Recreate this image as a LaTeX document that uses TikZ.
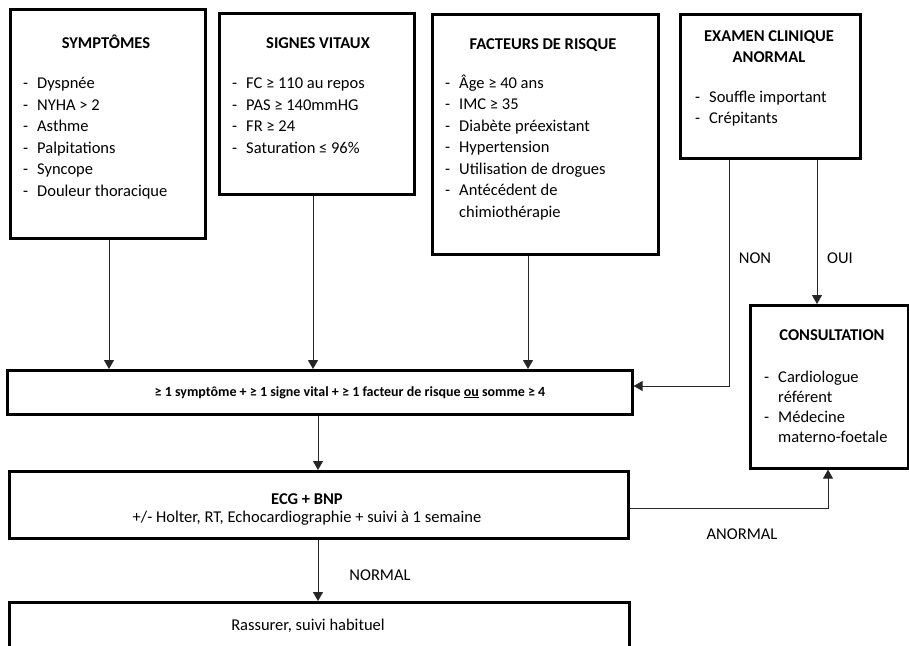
\documentclass[tikz,border=0pt]{standalone}
\usepackage{fontspec}
\setmainfont{Carlito}
\usetikzlibrary{arrows.meta}
\newcommand\li[4]{\node[txt,anchor=base west] (#1) at (#2,#3) {\makebox[14pt][l]{-}#4};}
\newcommand\lc[4]{\node[txt,anchor=base west] (#1) at (#2,#3) {\makebox[14pt][l]{}#4};}
\begin{document}
\begin{tikzpicture}[x=1pt,y=-1pt,
  box/.style={draw=black, line width=2.6pt, inner sep=0pt, anchor=north west, fill=white},
  conn/.style={draw=black!85, line width=0.9pt, -{Triangle[width=10pt,length=9pt]}},
  txt/.style={inner sep=0pt, text=black, font=\fontsize{16.5}{20}\selectfont},
  ttl/.style={txt, font=\bfseries\fontsize{16.5}{20}\selectfont},
  lbl/.style={txt, anchor=center},
]
\useasboundingbox (0,0) rectangle (909,645);
\clip (0,0) rectangle (909,645);

% boxes
\node[box, minimum width=195pt, minimum height=229pt] (sym) at (9,8) {};
\node[box, minimum width=195pt, minimum height=181pt] (sv) at (218,12) {};
\node[box, minimum width=226pt, minimum height=240pt] (fac) at (431,13) {};
\node[box, minimum width=180pt, minimum height=144pt] (exa) at (679,13) {};
\node[box, minimum width=625pt, minimum height=44pt] (main) at (6,369) {};
\node[box, minimum width=158pt, minimum height=163pt] (cons) at (749,304) {};
\node[box, minimum width=619pt, minimum height=67pt] (ecg) at (8,470) {};
\node[box, minimum width=620pt, minimum height=80pt] (ras) at (8,601) {};

% SYMPTOMES
\node[ttl, anchor=base] (symt) at (106,48) {SYMPTÔMES};
\li{s1}{23}{88.5}{Dyspnée}
\li{s2}{23}{110}{NYHA > 2}
\li{s3}{23}{131.5}{Asthme}
\li{s4}{23}{153}{Palpitations}
\li{s5}{23}{174.5}{Syncope}
\li{s6}{23}{196}{Douleur thoracique}

% SIGNES VITAUX
\node[ttl, anchor=base] (svt) at (318,48) {SIGNES VITAUX};
\li{v1}{232}{88.5}{FC ≥ 110 au repos}
\li{v2}{232}{110}{PAS ≥ 140mmHG}
\li{v3}{232}{131.5}{FR ≥ 24}
\li{v4}{232}{153}{Saturation ≤ 96\%}

% FACTEURS
\node[ttl, anchor=base] (fact) at (543,49) {FACTEURS DE RISQUE};
\li{f1}{445}{88}{Âge ≥ 40 ans}
\li{f2}{445}{109.5}{IMC ≥ 35}
\li{f3}{445}{131}{Diabète préexistant}
\li{f4}{445}{152.5}{Hypertension}
\li{f5}{445}{174}{Utilisation de drogues}
\li{f6}{445}{195.5}{Antécédent de}
\lc{f7}{445}{217}{chimiothérapie}

% EXAMEN
\node[ttl, anchor=base] (exat1) at (769,41.5) {EXAMEN CLINIQUE};
\node[ttl, anchor=base] (exat2) at (769,62.5) {ANORMAL};
\li{e1}{695}{102}{Souffle important}
\li{e2}{695}{123}{Crépitants}

% CONSULTATION
\node[ttl, anchor=base] (const) at (832,340.5) {CONSULTATION};
\li{c1}{764}{382}{Cardiologue}
\lc{c2}{764}{402}{référent}
\li{c3}{764}{422}{Médecine}
\lc{c4}{764}{442}{materno-foetale}

% main
\node[txt, anchor=base, font=\bfseries\fontsize{14}{18}\selectfont] (maint) at (350,396)
  {≥ 1 symptôme + ≥ 1 signe vital + ≥ 1 facteur de risque \underline{ou} somme ≥ 4};

% ECG
\node[ttl, anchor=base] (ecgt) at (307,504.5) {ECG + BNP};
\node[txt, anchor=base] (ecgs) at (307,522) {+/- Holter, RT, Echocardiographie + suivi à 1 semaine};

% Rassurer
\node[txt, anchor=base] (rast) at (308,630) {Rassurer, suivi habituel};

% connectors
\draw[conn] (sym.south -| 109,0) -- (main.north -| 109,0);
\draw[conn] (sv.south -| 313,0) -- (main.north -| 313,0);
\draw[conn] (fac.south -| 528,0) -- (main.north -| 528,0);
\draw[conn] (exa.south -| 729,0) |- (main.east |- 0,386);
\draw[conn] (exa.south -| 817,0) -- (cons.north -| 817,0);
\draw[conn] (main.south -| 318,0) -- (ecg.north -| 318,0);
\draw[conn] (ecg.east |- 0,508) -| (cons.south -| 828,0);
\draw[conn] (ecg.south -| 318,0) -- (ras.north -| 318,0);

% labels
\node[lbl] (non) at (755,258) {NON};
\node[lbl] (oui) at (840,258) {OUI};
\node[lbl] (anor) at (742,534) {ANORMAL};
\node[lbl] (norm) at (380,575) {NORMAL};
\end{tikzpicture}
\end{document}
